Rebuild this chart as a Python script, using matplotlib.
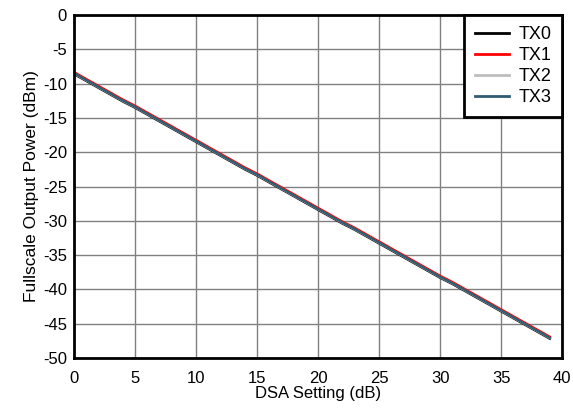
import matplotlib
matplotlib.use("Agg")
import matplotlib.pyplot as plt

plt.rcParams['font.family'] = ['Liberation Sans', 'DejaVu Sans']
plt.rcParams['axes.unicode_minus'] = False

dsa = list(range(40))
tx0 = [-8.6, -9.6, -10.6, -11.6, -12.6, -13.5, -14.5, -15.5, -16.5, -17.5,
       -18.5, -19.5, -20.5, -21.5, -22.5, -23.4, -24.4, -25.4, -26.4, -27.4,
       -28.4, -29.4, -30.4, -31.3, -32.3, -33.3, -34.3, -35.3, -36.3, -37.3,
       -38.3, -39.2, -40.2, -41.2, -42.2, -43.2, -44.2, -45.2, -46.2, -47.2]
tx1 = [-8.3, -9.3, -10.3, -11.3, -12.3, -13.2, -14.2, -15.2, -16.2, -17.2,
       -18.2, -19.2, -20.2, -21.2, -22.2, -23.1, -24.1, -25.1, -26.1, -27.1,
       -28.1, -29.1, -30.1, -31.0, -32.0, -33.0, -34.0, -35.0, -36.0, -37.0,
       -38.0, -38.9, -39.9, -40.9, -41.9, -42.9, -43.9, -44.9, -45.9, -46.9]
tx2 = [-8.5, -9.5, -10.5, -11.5, -12.5, -13.4, -14.4, -15.4, -16.4, -17.4,
       -18.4, -19.4, -20.4, -21.4, -22.4, -23.3, -24.3, -25.3, -26.3, -27.3,
       -28.3, -29.3, -30.3, -31.2, -32.2, -33.2, -34.2, -35.2, -36.2, -37.2,
       -38.2, -39.1, -40.1, -41.1, -42.1, -43.1, -44.1, -45.1, -46.1, -47.1]
tx3 = [-8.45, -9.45, -10.45, -11.45, -12.45, -13.35, -14.35, -15.35, -16.35, -17.35,
       -18.35, -19.35, -20.35, -21.35, -22.35, -23.25, -24.25, -25.25, -26.25, -27.25,
       -28.25, -29.25, -30.25, -31.15, -32.15, -33.15, -34.15, -35.15, -36.15, -37.15,
       -38.15, -39.05, -40.05, -41.05, -42.05, -43.05, -44.05, -45.05, -46.05, -47.05]

series = [("TX0", tx0, "#000000"), ("TX1", tx1, "#ff0000"),
          ("TX2", tx2, "#bdbdbd"), ("TX3", tx3, "#2f5b73")]

xticks = [0, 5, 10, 15, 20, 25, 30, 35, 40]
yticks = [0, -5, -10, -15, -20, -25, -30, -35, -40, -45, -50]

fig = plt.figure(figsize=(5.73, 4.08), dpi=100)
ax = fig.add_axes([0.129, 0.1225, 0.852, 0.8405])

for name, vals, col in series:
    ax.plot(dsa, vals, color=col, lw=1.6, label=name)

ax.set_xlim(0, 40)
ax.set_ylim(-50, 0)
ax.set_xticks(xticks)
ax.set_yticks(yticks)
ax.tick_params(length=0, labelsize=12)
ax.tick_params(axis="x", pad=9)
ax.tick_params(axis="y", pad=5)
ax.grid(True, color="#808080", lw=1)
ax.set_axisbelow(True)
for s in ax.spines.values():
    s.set_linewidth(2)
ax.set_xlabel("DSA Setting (dB)", fontsize=12, labelpad=0)
ax.set_ylabel("Fullscale Output Power (dBm)", fontsize=12.5, labelpad=3)

leg = ax.legend(loc="upper right", fontsize=13, fancybox=False, framealpha=1,
                edgecolor="black", borderaxespad=0, handlelength=1.9,
                handletextpad=0.5, labelspacing=0.22, borderpad=0.6)
leg.get_frame().set_linewidth(2)
for line in leg.get_lines():
    line.set_linewidth(2)

fig.savefig("out.png", dpi=100)
